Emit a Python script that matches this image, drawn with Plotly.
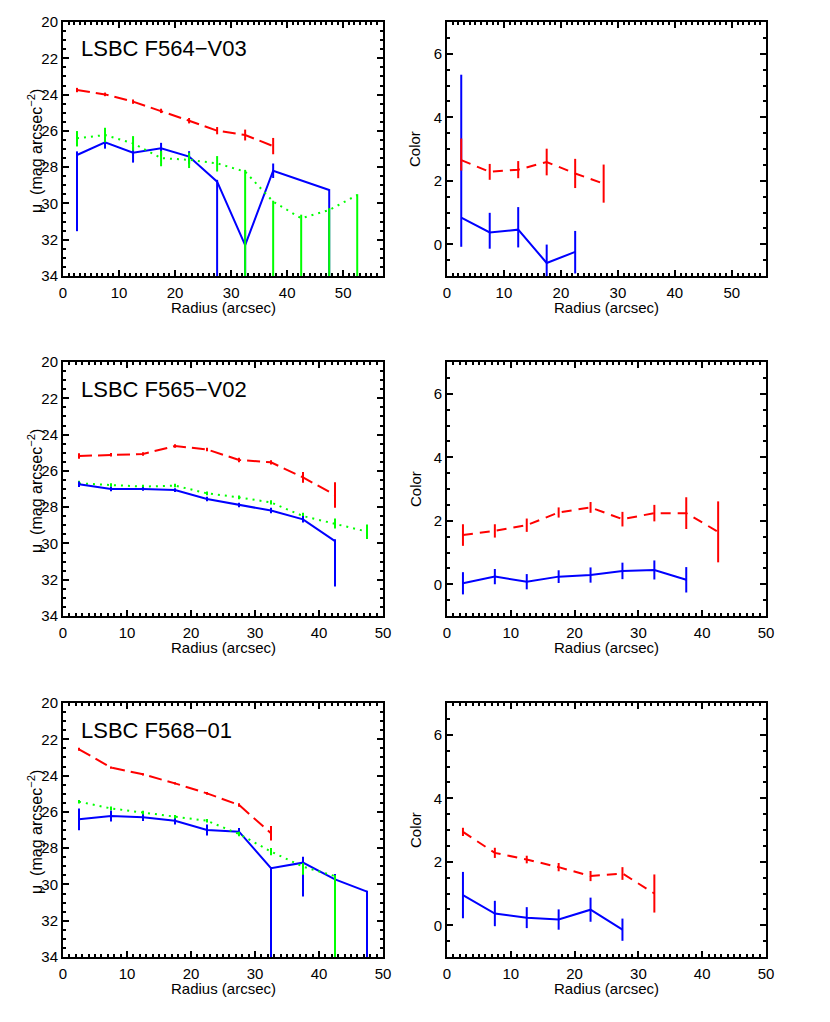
import plotly.graph_objects as go

radius = [2.5, 7.5, 12.5, 17.5, 22.5, 27.5, 32.5, 37.5, 42.5, 47.5, 52.5]

# ---------------- Panel 1: LSBC F564-V03 ----------------
p1_red_r = radius[:8]
p1_red = [23.75, 23.99, 24.39, 24.90, 25.44, 25.99, 26.23, 26.84]
p1_red_err = [0.12, 0.1, 0.12, 0.12, 0.15, 0.2, 0.3, 0.45]
p1_grn_r = radius[:11]
p1_grn = [26.41, 26.23, 26.69, 27.50, 27.60, 27.79, 28.25, 29.90, 30.82, 30.36, 29.54]
p1_grn_ep = [0.45, 0.4, 0.4, 0.45, 0.45, 0.45, 8.0, 8.0, 8.0, 8.0, 8.0]
p1_grn_em = [0.4, 0.4, 0.4, 0.4, 0.4, 0.4, 0.1, 0.05, 0.2, 0.1, 0.05]
p1_blu_r = [2.5, 7.5, 12.5, 17.5, 22.5, 27.5, 32.5, 37.5, 47.5]
p1_blu = [27.33, 26.63, 27.20, 26.96, 27.42, 28.80, 32.30, 28.20, 29.26]
p1_blu_ep = [4.2, 0.35, 0.55, 0.45, 0.4, 8.0, 8.0, 0.4, 8.0]
p1_blu_em = [0.2, 0.3, 0.3, 0.3, 0.3, 0.1, 0.83, 0.4, 0.05]

p1c_red_r = radius[:6]
p1c_red = [2.65, 2.28, 2.35, 2.59, 2.23, 1.91]
p1c_red_ep = [0.68, 0.25, 0.27, 0.42, 0.46, 0.6]
p1c_red_em = [0.33, 0.25, 0.27, 0.42, 0.46, 0.6]
p1c_blu_r = radius[:5]
p1c_blu = [0.84, 0.37, 0.46, -0.59, -0.24]
p1c_blu_ep = [4.5, 0.62, 0.71, 0.58, 0.66]
p1c_blu_em = [0.92, 0.51, 0.56, 0.6, 0.68]

# ---------------- Panel 2: LSBC F565-V02 ----------------
p2_red_r = radius[:9]
p2_red = [25.18, 25.11, 25.07, 24.63, 24.82, 25.40, 25.53, 26.36, 27.33]
p2_red_err = [0.15, 0.1, 0.1, 0.1, 0.1, 0.12, 0.12, 0.3, 0.7]
p2_grn_r = radius[:10]
p2_grn = [26.69, 26.78, 26.87, 26.81, 27.24, 27.46, 27.74, 28.49, 28.90, 29.35]
p2_grn_err = [0.15, 0.1, 0.1, 0.1, 0.1, 0.1, 0.12, 0.18, 0.28, 0.4]
p2_blu_r = radius[:9]
p2_blu = [26.74, 27.00, 27.00, 27.06, 27.55, 27.88, 28.19, 28.67, 29.87]
p2_blu_ep = [0.15, 0.12, 0.1, 0.1, 0.12, 0.12, 0.15, 0.18, 2.5]
p2_blu_em = [0.15, 0.12, 0.1, 0.1, 0.12, 0.12, 0.15, 0.18, 0.1]

p2c_red_r = radius[:9]
p2c_red = [1.55, 1.68, 1.86, 2.26, 2.42, 2.05, 2.24, 2.24, 1.65]
p2c_red_err = [0.34, 0.21, 0.21, 0.16, 0.17, 0.23, 0.26, 0.5, 0.96]
p2c_blu_r = radius[:8]
p2c_blu = [0.03, 0.24, 0.08, 0.24, 0.29, 0.42, 0.45, 0.14]
p2c_blu_err = [0.35, 0.24, 0.24, 0.2, 0.24, 0.26, 0.3, 0.4]

# ---------------- Panel 3: LSBC F568-01 ----------------
p3_red_r = radius[:7]
p3_red = [22.55, 23.56, 23.93, 24.43, 24.98, 25.62, 27.18]
p3_red_err = [0.08, 0.06, 0.06, 0.06, 0.08, 0.1, 0.4]
p3_grn_r = radius[:9]
p3_grn = [25.44, 25.81, 26.04, 26.27, 26.49, 27.22, 28.19, 29.02, 29.54]
p3_grn_ep = [0.1, 0.1, 0.1, 0.1, 0.1, 0.12, 0.2, 0.45, 8.0]
p3_grn_em = [0.1, 0.1, 0.1, 0.1, 0.1, 0.12, 0.2, 0.2, 0.05]
p3_blu_r = radius[:10]
p3_blu = [26.41, 26.23, 26.30, 26.49, 27.00, 27.09, 29.11, 28.80, 29.72, 30.40]
p3_blu_ep = [0.6, 0.3, 0.2, 0.2, 0.3, 0.2, 8.0, 1.87, 0.3, 8.0]
p3_blu_em = [0.6, 0.3, 0.2, 0.2, 0.3, 0.2, 0.05, 0.33, 0.3, 0.05]

p3c_red_r = radius[:7]
p3c_red = [2.94, 2.28, 2.07, 1.83, 1.55, 1.63, 1.00]
p3c_red_err = [0.13, 0.16, 0.12, 0.13, 0.16, 0.2, 0.6]
p3c_blu_r = radius[:6]
p3c_blu = [0.95, 0.37, 0.24, 0.18, 0.49, -0.14]
p3c_blu_err = [0.73, 0.4, 0.33, 0.32, 0.38, 0.35]

titles = ["LSBC F564\u2212V03", "LSBC F565\u2212V02", "LSBC F568\u221201"]

mu_ticks = [20, 22, 24, 26, 28, 30, 32, 34]
col_ticks = [0, 2, 4, 6]
r_ticks = [0, 10, 20, 30, 40, 50]

RED, GRN, BLU = "#ff0000", "#00ff00", "#0000ff"
OFF = 8  # page body margin
W, H = 830 - OFF, 1022 - OFF

fig = go.Figure()

left_x = (63 - OFF, 383 - OFF)
right_x = (447 - OFF, 766 - OFF)
rows_y = [(22 - OFF, 276 - OFF), (362 - OFF, 616 - OFF), (703 - OFF, 957 - OFF)]
xmax_left = [57.1, 50, 50]
xmax_right = [56, 50, 50]


def add(axn, x, y, color, dash, ep, em=None):
    ey = dict(type="data", array=ep, color=color, thickness=2, width=0, visible=True)
    if em is not None:
        ey["symmetric"] = False
        ey["arrayminus"] = em
    fig.add_trace(go.Scatter(
        x=x, y=y, mode="lines",
        line=dict(color=color, width=2, dash=dash),
        error_y=ey,
        xaxis="x" + ("" if axn == 1 else str(axn)),
        yaxis="y" + ("" if axn == 1 else str(axn)),
        showlegend=False, hoverinfo="skip"))


FONT = "Liberation Sans, Arial, Helvetica, sans-serif"
FS = 15
DASH_L = "13px,6px"
DOT = "2px,5px"
DASH_R = "10px,7px"

panels = [
    dict(mu=[(p1_blu_r, p1_blu, BLU, "solid", p1_blu_ep, p1_blu_em),
             (p1_grn_r, p1_grn, GRN, DOT, p1_grn_ep, p1_grn_em),
             (p1_red_r, p1_red, RED, DASH_L, p1_red_err, None)],
         col=[(p1c_blu_r, p1c_blu, BLU, "solid", p1c_blu_ep, p1c_blu_em),
              (p1c_red_r, p1c_red, RED, DASH_R, p1c_red_ep, p1c_red_em)]),
    dict(mu=[(p2_grn_r, p2_grn, GRN, DOT, p2_grn_err, None),
             (p2_blu_r, p2_blu, BLU, "solid", p2_blu_ep, p2_blu_em),
             (p2_red_r, p2_red, RED, DASH_L, p2_red_err, None)],
         col=[(p2c_blu_r, p2c_blu, BLU, "solid", p2c_blu_err, None),
              (p2c_red_r, p2c_red, RED, DASH_R, p2c_red_err, None)]),
    dict(mu=[(p3_blu_r, p3_blu, BLU, "solid", p3_blu_ep, p3_blu_em),
             (p3_grn_r, p3_grn, GRN, DOT, p3_grn_ep, p3_grn_em),
             (p3_red_r, p3_red, RED, DASH_L, p3_red_err, None)],
         col=[(p3c_blu_r, p3c_blu, BLU, "solid", p3c_blu_err, None),
              (p3c_red_r, p3c_red, RED, DASH_R, p3c_red_err, None)]),
]

layout = dict(width=W, height=H, margin=dict(l=0, r=0, t=0, b=0, autoexpand=False),
              paper_bgcolor="white", plot_bgcolor="white",
              font=dict(family=FONT, size=FS, color="black"),
              annotations=[])


def axis_common():
    return dict(showline=True, linecolor="black", linewidth=2, mirror="ticks",
                ticks="inside", tickcolor="black", tickwidth=1.5, showgrid=False,
                zeroline=False, automargin=False,
                tickfont=dict(family=FONT, size=FS, color="black"))


def note(text, xpx, ypx, size=FS, angle=0, xanchor="center"):
    layout["annotations"].append(dict(
        text=text, xref="paper", yref="paper", x=xpx / W, y=1 - ypx / H,
        xanchor=xanchor, yanchor="middle", textangle=angle, showarrow=False,
        font=dict(family=FONT, size=size, color="black")))


for i, p in enumerate(panels):
    y0, y1 = rows_y[i]
    ydom = [1 - y1 / H, 1 - y0 / H]
    ymid = (y0 + y1) / 2
    for j, side in enumerate(["mu", "col"]):
        n = i * 2 + j + 1
        xs = "" if n == 1 else str(n)
        xd = left_x if j == 0 else right_x
        xmax = xmax_left[i] if j == 0 else xmax_right[i]
        xa = axis_common()
        xa.update(domain=[xd[0] / W, xd[1] / W], range=[0, xmax], anchor="y" + xs,
                  tickvals=r_ticks, ticklen=6, ticklabelstandoff=2,
                  minor=dict(ticks="inside", dtick=1, tick0=0, ticklen=3, tickcolor="black", tickwidth=1.5))
        ya = axis_common()
        if j == 0:
            ya.update(domain=ydom, range=[34, 20], tickvals=mu_ticks, ticklen=6,
                      minor=dict(ticks="inside", dtick=0.5, tick0=0, ticklen=3, tickcolor="black", tickwidth=1.5))
            note("\u03bc  (mag arcsec<sup>\u22122</sup>)", 35 - OFF, ymid + 2, size=16, angle=-90)
        else:
            ya.update(domain=ydom, range=[-1, 7], tickvals=col_ticks, ticklen=6,
                      minor=dict(ticks="inside", dtick=0.5, tick0=0, ticklen=3, tickcolor="black", tickwidth=1.5))
            note("Color", 415 - OFF, ymid, size=FS, angle=-90)
        ya["anchor"] = "x" + xs
        layout["xaxis" + xs] = xa
        layout["yaxis" + xs] = ya
        for (x, y, c, d, ep, em) in p[side]:
            add(n, x, y, c, d, ep, em)
        note("Radius (arcsec)", (xd[0] + xd[1]) / 2, y1 + 31)
    note(titles[i], left_x[0] + 16, y0 + 27, size=22, xanchor="left")

fig.update_layout(**layout)
fig.write_html("out.html")
